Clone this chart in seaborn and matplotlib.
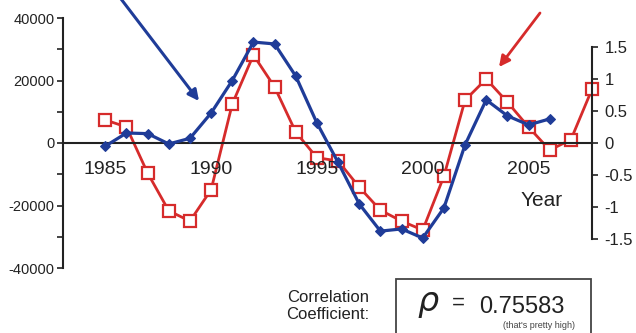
import matplotlib
matplotlib.use("Agg")
import matplotlib.pyplot as plt
from matplotlib.patches import Rectangle
from matplotlib.ticker import MultipleLocator, FuncFormatter
import seaborn as sns
import pandas as pd

# Left-axis series (diamonds)
years_a = list(range(1985, 2007))
values_a = [-1000, 3200, 3000, -300, 1500, 9600, 20000, 32300, 31700, 21400, 6400,
            -6200, -19500, -28200, -27500, -30400, -20800, -600, 13800, 8700, 5800, 7700]

# Right-axis series (open squares)
years_b = list(range(1985, 2009))
values_b = [0.36, 0.25, -0.47, -1.06, -1.22, -0.73, 0.61, 1.375, 0.875, 0.17, -0.23,
            -0.28, -0.69, -1.05, -1.22, -1.36, -0.52, 0.67, 1.0, 0.64, 0.25, -0.11, 0.05, 0.84]

year_ticks = [1985, 1990, 1995, 2000, 2005]
right_ticks = [-1.5, -1, -0.5, 0, 0.5, 1, 1.5]
rho_text = "0.75583"

BLUE = "#1f3c98"
RED = "#d62b2b"
INK = "#222222"

sns.set_style("white")
plt.rcParams["font.family"] = ["Liberation Sans", "DejaVu Sans"]
plt.rcParams["axes.unicode_minus"] = False

W, H = 636, 333
fig = plt.figure(figsize=(W / 100, H / 100), dpi=100)
ax = fig.add_axes([63 / W, 1 - 268 / H, 529 / W, 250 / H])

df_a = pd.DataFrame({"year": years_a, "value": values_a})
df_b = pd.DataFrame({"year": years_b, "value": values_b})

sns.lineplot(data=df_a, x="year", y="value", ax=ax, color=BLUE, lw=2.3,
             marker="D", markersize=5.5, markeredgecolor=BLUE, markerfacecolor=BLUE, zorder=3)
ax.set_xlim(1983, 2008)
ax.set_ylim(-40000, 40000)
ax.set_xlabel("")
ax.set_ylabel("")

for s in ("top", "right"):
    ax.spines[s].set_visible(False)
ax.spines["bottom"].set_position(("data", 0))
ax.spines["bottom"].set_color(INK)
ax.spines["bottom"].set_linewidth(1.5)
ax.spines["left"].set_color(INK)
ax.spines["left"].set_linewidth(1.5)

ax.set_xticks(year_ticks)
ax.set_xticklabels([str(y) for y in year_ticks])
ax.tick_params(axis="x", direction="in", length=5, width=1.2, colors=INK,
               labelsize=14, pad=13)
ax.yaxis.set_major_locator(MultipleLocator(20000))
ax.yaxis.set_minor_locator(MultipleLocator(10000))
ax.yaxis.set_major_formatter(FuncFormatter(lambda v, p: f"{int(v)}"))
ax.tick_params(axis="y", which="both", direction="out", length=4, width=1.2,
               colors=INK, labelsize=10.5, pad=2)

ax2 = ax.twinx()
sns.lineplot(data=df_b, x="year", y="value", ax=ax2, color=RED, lw=2.0,
             marker="s", markersize=8, markeredgecolor=RED, markerfacecolor="white",
             markeredgewidth=1.6, zorder=2)
ax2.set_ylim(-1.953, 1.953)
ax2.set_xlim(1983, 2008)
ax2.set_ylabel("")
for s in ("top", "left", "bottom"):
    ax2.spines[s].set_visible(False)
ax2.spines["right"].set_bounds(-1.5, 1.5)
ax2.spines["right"].set_color(INK)
ax2.spines["right"].set_linewidth(1.5)
ax2.set_yticks(right_ticks)
ax2.yaxis.set_major_formatter(FuncFormatter(lambda v, p: f"{v:g}"))
ax2.tick_params(axis="y", direction="out", length=4, width=1.2, colors=INK,
                labelsize=12, pad=5)
for line in ax2.get_lines() + ax.get_lines():
    line.set_clip_on(False)
ax.set_zorder(ax2.get_zorder() + 1)
ax.patch.set_visible(False)


def fx(px):
    return px / W


def fy(py):
    return 1 - py / H


fig.text(fx(542), fy(200), "Year", fontsize=15, color=INK, ha="center", va="center")
fig.text(fx(328), fy(306), "Correlation\nCoefficient:", fontsize=12, color=INK,
         ha="center", va="center", linespacing=1.15)

box = Rectangle((fx(396), fy(345)), fx(591) - fx(396), fy(279) - fy(345),
                transform=fig.transFigure, fill=False, edgecolor="#444444", lw=1.3,
                clip_on=False)
fig.patches.append(box)
fig.text(fx(428), fy(305), r"$\rho$", fontsize=24, color=INK, ha="center", va="center")
fig.text(fx(458), fy(303), "=", fontsize=16, color=INK, ha="center", va="center")
fig.text(fx(479), fy(313), rho_text, fontsize=17, color=INK, ha="left", va="baseline")
fig.text(fx(539), fy(326), "(that's pretty high)", fontsize=6.5, color="#444444",
         ha="center", va="center")

# Pointer arrows
ax.annotate("", xy=(fx(199), fy(101)), xycoords="figure fraction",
            xytext=(fx(118), fy(-5)), textcoords="figure fraction",
            arrowprops=dict(arrowstyle="-|>", color=BLUE, lw=2.2, mutation_scale=16,
                            shrinkA=0, shrinkB=0), annotation_clip=False)
ax.annotate("", xy=(fx(499), fy(67)), xycoords="figure fraction",
            xytext=(fx(540), fy(13)), textcoords="figure fraction",
            arrowprops=dict(arrowstyle="-|>", color=RED, lw=2.0, mutation_scale=16,
                            shrinkA=0, shrinkB=0), annotation_clip=False)

fig.savefig("out.png", dpi=100)
